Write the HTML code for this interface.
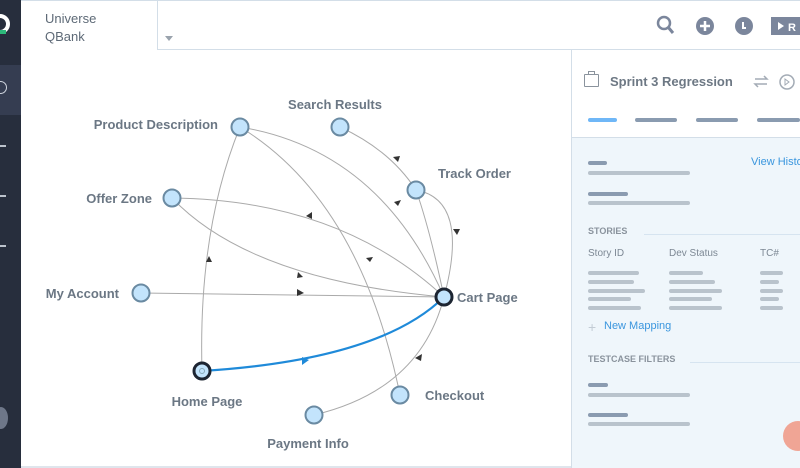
<!DOCTYPE html>
<html><head><meta charset="utf-8"><style>
*{margin:0;padding:0;box-sizing:border-box}
body{width:800px;height:468px;overflow:hidden;background:#fff;font-family:"Liberation Sans",sans-serif;position:relative}
.abs{position:absolute;white-space:nowrap}
.bar{position:absolute;height:4px;border-radius:2px}
.d{background:#8a9bb0}.l{background:#b9c3cc}
.t{position:absolute;font-size:11px;color:#7d8894}
</style></head><body>
<div class="abs" style="left:0;top:0;width:21px;height:468px;background:#272e3d"></div>
<div class="abs" style="left:0;top:65px;width:21px;height:50px;background:#353d51"></div>
<div class="abs" style="left:-10px;top:14px;width:20px;height:20px;border:4px solid #fff;border-radius:50%"></div>
<div class="abs" style="left:0;top:30px;width:6px;height:4px;background:#2db87a"></div>
<div class="abs" style="left:-6px;top:81px;width:13px;height:13px;border:1.5px solid #cfd5de;border-radius:50%"></div>
<div class="abs" style="left:0;top:145px;width:6px;height:1.5px;background:#bcc3cd"></div>
<div class="abs" style="left:0;top:195px;width:6px;height:1.5px;background:#bcc3cd"></div>
<div class="abs" style="left:0;top:245px;width:6px;height:1.5px;background:#bcc3cd"></div>
<div class="abs" style="left:-6px;top:407px;width:14px;height:22px;border-radius:50%;background:#6e7789"></div>
<div class="abs" style="left:21px;top:0;width:779px;height:1px;background:#d3dee8"></div>
<div class="abs" style="left:157px;top:0;width:643px;height:50px;border-left:1px solid #d3dee8;border-bottom:1px solid #d3dee8"></div>
<div class="abs" style="left:45px;top:10px;font-size:13px;line-height:18px;color:#5e6a77">Universe<br>QBank</div>
<div class="abs" style="left:165px;top:36px;width:0;height:0;border-left:4px solid transparent;border-right:4px solid transparent;border-top:5px solid #9aa3ad"></div>
<svg class="abs" style="left:650px;top:12px" width="150" height="26">
<circle cx="14" cy="11" r="6" fill="none" stroke="#7b869c" stroke-width="2.5"/><line x1="18" y1="15" x2="23" y2="21" stroke="#7b869c" stroke-width="3"/>
<circle cx="55" cy="14" r="9" fill="#7b869c"/><path d="M55 9v10M50 14h10" stroke="#fff" stroke-width="2.5"/>
<circle cx="94" cy="14" r="9" fill="#7b869c"/><path d="M93 10v6h3" stroke="#fff" stroke-width="2" fill="none"/>
<rect x="121" y="5" width="40" height="18" fill="#7b869c"/><path d="M128 10l6 4-6 4z" fill="#fff"/><text x="138" y="19" font-size="11" font-weight="bold" fill="#fff" font-family="Liberation Sans">R</text>
</svg>
<div class="abs" style="left:571px;top:50px;width:229px;height:418px;border-left:1.5px solid #d3dee8;background:#fff"></div>
<div class="abs" style="left:572px;top:137px;width:228px;height:331px;background:#eff6fb;border-top:1.5px solid #d3dee8"></div>
<div class="abs" style="left:584px;top:74px;width:15px;height:13px;border:1.5px solid #8a939d;border-radius:1px"></div>
<div class="abs" style="left:588px;top:71px;width:7px;height:4px;border:1.5px solid #8a939d;border-bottom:none"></div>
<div class="abs" style="left:610px;top:74px;font-size:13px;font-weight:bold;color:#6d7884">Sprint 3 Regression</div>
<svg class="abs" style="left:752px;top:72px" width="48" height="20"><path d="M3 7h12l-3-3M15 12H3l3 3" stroke="#a3abb5" stroke-width="1.5" fill="none"/><circle cx="35" cy="10" r="7" fill="none" stroke="#a3abb5" stroke-width="1.5"/><path d="M33 7l4 3-4 3z" fill="none" stroke="#a3abb5"/></svg>
<div class="bar" style="left:588px;top:118px;width:29px;background:#6fb7f7"></div>
<div class="bar d" style="left:635px;top:118px;width:42px"></div>
<div class="bar d" style="left:696px;top:118px;width:42px"></div>
<div class="bar d" style="left:757px;top:118px;width:43px"></div>
<div class="bar d" style="left:588px;top:161px;width:19px"></div>
<div class="bar l" style="left:588px;top:171px;width:102px"></div>
<div class="bar d" style="left:588px;top:192px;width:40px"></div>
<div class="bar l" style="left:588px;top:201px;width:102px"></div>
<div class="abs" style="left:751px;top:156px;font-size:11px;color:#3a96de">View History</div>
<div class="abs" style="left:588px;top:226px;font-size:9px;font-weight:bold;color:#8a939d">STORIES</div>
<div class="abs" style="left:644px;top:234px;width:156px;height:1px;background:#d6e4f0"></div>
<div class="t" style="left:588px;top:248px;font-size:10px">Story ID</div>
<div class="t" style="left:669px;top:248px;font-size:10px">Dev Status</div>
<div class="t" style="left:760px;top:248px;font-size:10px">TC#</div>
<div class="bar l" style="left:588px;top:271px;width:51px"></div><div class="bar l" style="left:669px;top:271px;width:34px"></div><div class="bar l" style="left:760px;top:271px;width:23px"></div>
<div class="bar l" style="left:588px;top:280px;width:46px"></div><div class="bar l" style="left:669px;top:280px;width:46px"></div><div class="bar l" style="left:760px;top:280px;width:19px"></div>
<div class="bar l" style="left:588px;top:289px;width:57px"></div><div class="bar l" style="left:669px;top:289px;width:53px"></div><div class="bar l" style="left:760px;top:289px;width:23px"></div>
<div class="bar l" style="left:588px;top:297px;width:43px"></div><div class="bar l" style="left:669px;top:297px;width:43px"></div><div class="bar l" style="left:760px;top:297px;width:19px"></div>
<div class="bar l" style="left:588px;top:306px;width:53px"></div><div class="bar l" style="left:669px;top:306px;width:53px"></div><div class="bar l" style="left:760px;top:306px;width:23px"></div>
<div class="abs" style="left:588px;top:319px;font-size:14px;color:#c3ccd5">+</div>
<div class="abs" style="left:604px;top:320px;font-size:11px;color:#3a96de">New Mapping</div>
<div class="abs" style="left:588px;top:354px;font-size:9px;font-weight:bold;color:#8a939d">TESTCASE FILTERS</div>
<div class="abs" style="left:690px;top:362px;width:110px;height:1px;background:#d6e4f0"></div>
<div class="bar d" style="left:588px;top:383px;width:20px"></div>
<div class="bar l" style="left:588px;top:393px;width:102px"></div>
<div class="bar d" style="left:588px;top:413px;width:40px"></div>
<div class="bar l" style="left:588px;top:422px;width:102px"></div>
<div class="abs" style="left:783px;top:421px;width:30px;height:30px;border-radius:50%;background:#f0a595"></div>
<div class="abs" style="left:21px;top:466px;width:550px;height:2px;background:#dfe5ec"></div>
<svg class="abs" style="left:0;top:0" width="571" height="468" font-family="Liberation Sans">
<g fill="none" stroke="#aaa" stroke-width="1">
<path d="M202 371 Q198 230 240 127"/>
<path d="M444 297 Q380 150 240 127"/>
<path d="M240 127 Q360 200 400 395"/>
<path d="M340 127 Q390 150 416 190"/>
<path d="M416 190 Q430 230 444 297"/>
<path d="M416 190 Q470 200 444 297"/>
<path d="M444 297 Q340 200 172 198"/>
<path d="M172 198 Q250 280 444 297"/>
<path d="M141 293 L444 297"/>
<path d="M314 415 Q420 390 444 297"/>
</g>
<path d="M202 371 Q380 360 444 297" fill="none" stroke="#1f8ad9" stroke-width="2.2"/>
<g fill="#333">
<path d="M209 256l-3 6h6z"/>
<path d="M394 202l7-2-3 6z"/>
<path d="M366 258l4 4 3-5z"/>
<path d="M393 157l5 5 2-6z"/>
<path d="M453 229l4 6 3-6z"/>
<path d="M306 216l6-4v7z"/>
<path d="M298 272l5 5-6 1z"/>
<path d="M297 289l7 4-7 3z"/>
<path d="M415 358l7-4-1 7z"/>
</g>
<path d="M302 357l7 3-7 5z" fill="#1f8ad9"/>
<g fill="#c3e4fc" stroke="#6a8aa2" stroke-width="2">
<circle cx="240" cy="127" r="8.5"/><circle cx="340" cy="127" r="8.5"/><circle cx="416" cy="190" r="8.5"/>
<circle cx="172" cy="198" r="8.5"/><circle cx="141" cy="293" r="8.5"/><circle cx="400" cy="395" r="8.5"/><circle cx="314" cy="415" r="8.5"/>
</g>
<circle cx="444" cy="297" r="8" fill="#c3e4fc" stroke="#1d2532" stroke-width="3"/>
<circle cx="202" cy="371" r="8" fill="#c3e4fc" stroke="#1d2532" stroke-width="3"/>
<circle cx="202" cy="371" r="2.5" fill="none" stroke="#8ab"/>
<g font-size="13" font-weight="bold" fill="#6b7784">
<text x="218" y="129" text-anchor="end">Product Description</text>
<text x="335" y="109" text-anchor="middle">Search Results</text>
<text x="438" y="178">Track Order</text>
<text x="152" y="203" text-anchor="end">Offer Zone</text>
<text x="119" y="298" text-anchor="end">My Account</text>
<text x="457" y="302">Cart Page</text>
<text x="207" y="406" text-anchor="middle">Home Page</text>
<text x="425" y="400">Checkout</text>
<text x="308" y="448" text-anchor="middle">Payment Info</text>
</g>
</svg>
</body></html>
